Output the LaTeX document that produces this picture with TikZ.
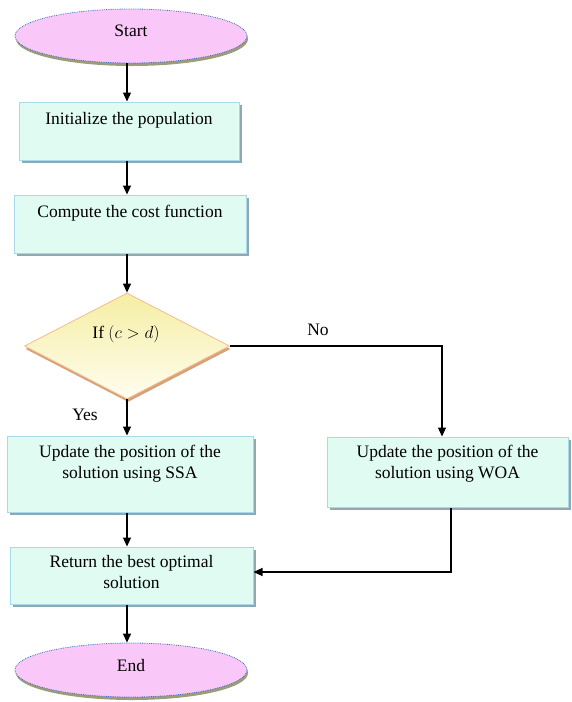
\documentclass[tikz,border=0pt]{standalone}
\usepackage{fontspec}
\setmainfont{Liberation Serif}
\usetikzlibrary{shapes.geometric,shadows,arrows.meta}
\definecolor{pinkfill}{HTML}{F9C8F8}
\definecolor{pinkline}{HTML}{3A6FC0}
\definecolor{pinkshadow}{HTML}{9C9C78}
\definecolor{boxfill}{HTML}{E0FBF1}
\definecolor{boxline}{HTML}{A6DAEA}
\definecolor{boxshadow}{HTML}{8FA8B4}
\definecolor{diatop}{HTML}{F5EEA3}
\definecolor{diabot}{HTML}{FFFDF0}
\definecolor{dialine}{HTML}{F5BC8E}
\definecolor{diashadow}{HTML}{D6A27A}
\begin{document}
\begin{tikzpicture}[x=1pt,y=-1pt,
  every node/.style={font=\fontsize{17.5}{21}\selectfont},
  term/.style={ellipse,draw=pinkline,densely dotted,line width=0.8pt,fill=pinkfill,
    minimum width=232pt,minimum height=54pt,inner sep=0pt,
    drop shadow={shadow xshift=1pt,shadow yshift=-3pt,fill=pinkshadow,opacity=1}},
  procbox/.style={rectangle,draw=boxline,line width=1pt,fill=boxfill,inner sep=0pt,
    drop shadow={shadow xshift=3pt,shadow yshift=-3pt,fill=boxshadow,opacity=1}},
  decbox/.style={diamond,draw=dialine,line width=0.8pt,top color=diatop,bottom color=diabot,
    minimum width=205pt,minimum height=106pt,inner sep=0pt,aspect=1.93,
    drop shadow={shadow xshift=1pt,shadow yshift=-3pt,fill=diashadow,opacity=1}},
  txt/.style={anchor=base,inner sep=0pt,align=center},
  arr/.style={draw=black,line width=1.1pt,-{Triangle[length=9pt,width=8pt]}},
  conn/.style={draw=black,line width=1.1pt}]
\useasboundingbox (0,0) rectangle (572,702);

% shapes
\node[term] (start) at (131,36) {};
\node[procbox,minimum width=220pt,minimum height=58pt] (init) at (129,131) {};
\node[procbox,minimum width=232pt,minimum height=58pt] (cost) at (130,224) {};
\node[decbox] (dia) at (127,346) {};
\node[procbox,minimum width=246pt,minimum height=76pt] (ssa) at (130,474) {};
\node[procbox,minimum width=241pt,minimum height=70pt] (woa) at (447.5,472) {};
\node[procbox,minimum width=243pt,minimum height=57pt] (ret) at (131.5,575.5) {};
\node[term] (end) at (131,670) {};

% texts
\node[txt] (tstart) at (131,36) {Start};
\node[txt] (tinit) at (129,124) {Initialize the population};
\node[txt] (tcost) at (130,217) {Compute the cost function};
\node[txt] (tdia) at (126,338) {If $\left(c>d\right)$};
\node[txt] (tssa1) at (130,457) {Update the position of the};
\node[txt] (tssa2) at (130,478) {solution using SSA};
\node[txt] (twoa1) at (447.5,457) {Update the position of the};
\node[txt] (twoa2) at (447.5,478) {solution using WOA};
\node[txt] (tret1) at (131.5,567) {Return the best optimal};
\node[txt] (tret2) at (131.5,588) {solution};
\node[txt] (tend) at (131,671) {End};
\node[txt] (tno) at (318,335) {No};
\node[txt] (tyes) at (85,420) {Yes};

% connectors
\draw[arr] (start.south -| dia.north) -- (init.north -| dia.north);
\draw[arr] (init.south -| dia.north) -- (cost.north -| dia.north);
\draw[arr] (cost.south -| dia.north) -- (dia.north);
\draw[arr] (dia.south) -- (ssa.north -| dia.south);
\coordinate (nocorner) at (442,346);
\draw[arr] (dia.east) -- (nocorner) -- (nocorner |- woa.north);
\draw[arr] (ssa.south -| dia.north) -- (ret.north -| dia.north);
\coordinate (retcorner) at (451,572);
\draw[arr] (retcorner |- woa.south) -- (retcorner) -- (retcorner -| ret.east);
\draw[arr] (ret.south -| dia.north) -- (end.north -| dia.north);
\end{tikzpicture}
\end{document}
